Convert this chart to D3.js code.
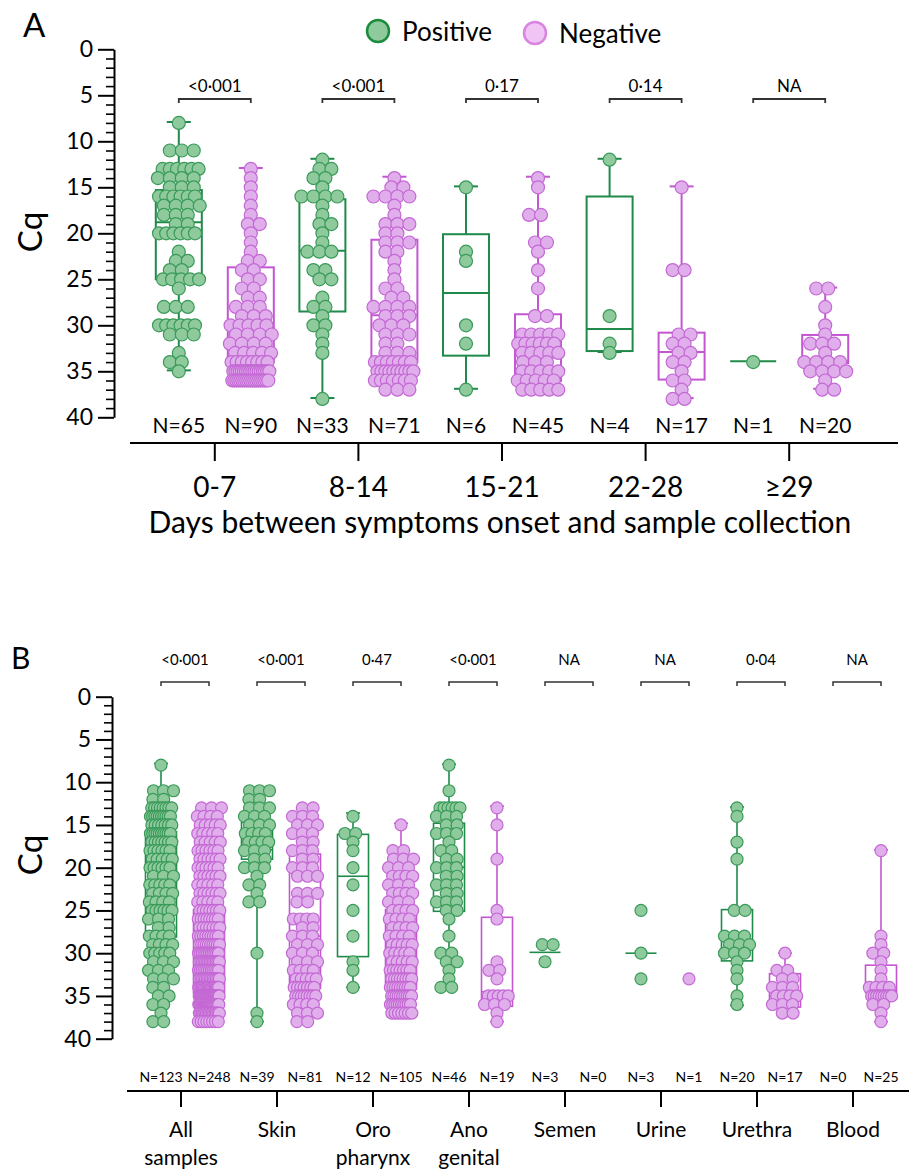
<!DOCTYPE html>
<html>
<head>
<meta charset="utf-8">
<script src="https://cdn.jsdelivr.net/npm/d3@7"></script>
<style>
  body { margin: 0; background: #fff; }
  svg { display: block; }
</style>
</head>
<body>
<div id="viz"></div>
<script>
// ---- Panel A: days between symptoms onset and sample collection ----
const daysCats = ["0-7", "8-14", "15-21", "22-28", "\u226529"];
const daysP = ["<0\u00b7001", "<0\u00b7001", "0\u00b717", "0\u00b714", "NA"];
const daysNPos = [65, 33, 6, 4, 1];
const daysNNeg = [90, 71, 45, 17, 20];

const daysPos = [
  [8,11,11,11,13,13,13,13,13,13,14,14,14,14,15,15,15,16,16,16,16,16,16,17,17,17,17,18,18,18,19,19,20,20,20,20,20,20,22,23,23,24,24,25,25,25,25,25,26,28,28,28,30,30,30,30,30,30,31,31,31,33,34,34,35],
  [12,13,13,14,14,15,16,16,16,16,17,18,19,19,20,21,22,22,22,24,24,25,25,27,28,28,29,30,30,31,32,33,38],
  [15,22,23,30,32,37],
  [12,29,32,33],
  [34]
];
const daysNeg = [
  [13,14,15,16,17,18,19,19,20,21,22,23,23,24,24,25,25,26,26,27,27,28,28,28,29,29,29,
   30,30,30,30,30,31,31,31,31,32,32,32,32,33,33,33,33,33,
   34,34,34,34,34,34,34,34,35,35,35,35,35,35,35,35,35,35,35,35,35,35,35,35,35,35,
   36,36,36,36,36,36,36,36,36,36,36,36,36,36,36,36,36,36,36],
  [14,15,15,16,16,16,16,17,18,19,19,19,20,20,21,21,21,22,22,23,24,25,26,26,27,27,
   28,28,28,28,29,29,29,30,30,30,31,31,31,32,32,33,33,33,34,34,34,34,34,34,34,
   35,35,35,35,35,35,35,35,35,35,36,36,36,36,36,36,36,37,37,37],
  [14,15,18,18,21,21,22,24,26,29,29,31,31,31,31,31,32,32,32,32,32,32,33,33,33,33,33,34,34,34,35,35,35,35,35,36,36,36,36,36,37,37,37,37,37],
  [15,24,24,31,31,32,32,33,33,34,34,35,36,36,37,38,38],
  [26,26,28,30,31,32,32,32,33,34,34,34,34,35,35,35,35,36,37,37]
];
// box stats: [min, q1, median, q3, max]; one value = median line only
const daysPosBox = [[7.9,15.3,18.8,25,34.9],[11.9,16.3,21.9,28.5,37.9],[14.9,20.1,26.5,33.3,36.9],[11.9,16,30.4,32.8,32.9],[33.9]];
const daysNegBox = [[12.9,23.7,29.9,34,35.9],[13.85,20.7,28.9,34,37],[13.85,28.8,32.9,36.05,37],[14.9,30.8,32.9,35.9,37.9],[25.9,31.05,33.9,34.1,36.9]];

// ---- Panel B: sample type ----
const sampleCats = [["All","samples"],["Skin"],["Oro","pharynx"],["Ano","genital"],["Semen"],["Urine"],["Urethra"],["Blood"]];
const sampleP = ["<0\u00b7001", "<0\u00b7001", "0\u00b747", "<0\u00b7001", "NA", "NA", "0\u00b704", "NA"];
const sampleNPos = [123, 39, 12, 46, 3, 3, 20, 0];
const sampleNNeg = [248, 81, 105, 19, 0, 1, 17, 25];

const samplePos = [
  [8,11,11,11,12,12,13,13,13,13,13,13,13,13,14,14,14,14,14,14,14,14,14,14,15,15,15,15,15,15,15,
   16,16,16,16,16,16,16,16,16,16,17,17,17,17,17,17,17,18,18,18,18,18,18,19,19,19,19,19,20,20,20,
   20,20,20,21,21,21,22,22,22,22,22,23,23,23,23,24,24,24,24,25,25,25,25,25,25,26,26,26,27,27,
   28,28,28,28,29,29,29,29,30,30,30,30,30,31,31,31,32,32,32,33,33,33,34,34,35,35,36,36,37,38,38],
  [11,11,11,12,12,13,13,13,14,14,14,15,15,15,16,16,16,16,17,17,17,17,18,18,18,19,19,20,20,20,21,22,22,23,24,24,30,37,38],
  [14,16,16,17,18,20,22,25,28,31,32,34],
  [8,11,13,13,13,13,13,13,14,14,14,15,15,16,16,16,17,18,18,19,19,20,20,20,21,21,22,22,22,23,23,24,24,24,25,25,26,28,30,30,31,31,32,33,34,34],
  [29,29,31],
  [25,30,33],
  [13,14,17,19,25,25,28,28,28,29,29,29,30,30,30,31,32,33,35,36],
  []
];
const sampleNeg = [
  [13,13,13,14,14,14,14,15,15,15,15,15,16,16,16,16,16,17,17,17,17,17,18,18,18,18,18,18,19,19,19,19,19,19,
   20,20,20,20,20,20,21,21,21,21,21,21,22,22,22,22,22,23,23,23,23,23,23,24,24,24,24,24,
   25,25,25,25,25,25,25,26,26,26,26,26,26,26,26,27,27,27,27,27,27,27,28,28,28,28,28,28,28,28,28,
   29,29,29,29,29,29,29,29,29,29,30,30,30,30,30,30,30,30,30,30,30,30,31,31,31,31,31,31,31,31,31,
   31,31,31,31,31,32,32,32,32,32,32,32,32,32,32,32,32,33,33,33,33,33,33,33,33,33,33,33,33,33,33,
   34,34,34,34,34,34,34,34,34,34,34,34,34,34,34,34,34,34,35,35,35,35,35,35,35,35,35,35,35,35,35,
   35,35,35,35,35,35,35,35,35,35,35,35,35,35,35,35,35,36,36,36,36,36,36,36,36,36,36,36,36,36,36,
   36,36,36,36,36,36,36,36,37,37,37,37,37,37,37,37,37,37,37,37,37,37,37,38,38,38,38,38,38,38,38],
  [13,13,14,14,14,15,15,15,16,16,16,17,17,18,18,18,19,19,20,20,20,21,21,21,23,23,23,24,24,26,26,26,26,27,27,
   28,28,28,29,29,29,30,30,30,31,31,31,32,32,32,32,33,33,33,33,33,34,34,34,34,34,34,34,35,35,35,35,35,35,35,35,
   36,36,36,36,37,37,37,38,38],
  [15,18,18,19,19,19,20,20,20,21,21,21,21,22,22,22,23,23,23,23,24,24,24,25,25,25,25,
   26,26,26,26,27,27,27,27,28,28,28,28,29,29,29,29,29,30,30,30,30,30,31,31,31,31,31,
   32,32,32,32,32,32,32,33,33,33,33,33,33,33,33,34,34,34,34,34,34,34,34,34,
   35,35,35,35,35,35,35,35,35,35,36,36,36,36,36,36,36,36,36,36,37,37,37,37,37,37,37],
  [13,15,19,25,26,31,32,32,33,35,35,35,35,35,36,36,36,37,38],
  [],
  [33],
  [30,32,32,33,33,34,34,34,35,35,35,35,36,36,36,37,37],
  [18,28,29,30,30,31,32,33,34,34,34,34,35,35,35,35,35,35,35,35,35,36,36,37,38]
];
const samplePosBox = [[7.8,15.8,20,28.1,38],[10.9,14.7,17.9,19,38],[13.6,16.1,21,30.4,34],[7.9,14.8,19.95,25.1,34.1],[29.9],[30],[12.9,24.9,28.6,30.9,36.1],null];
const sampleNegBox = [[12.8,24.9,31,34.7,38],[12.8,18.4,28,34.1,38],[14.8,24.9,31.1,34.2,37],[12.8,25.8,34.5,36.2,38],null,null,[30,32.4,35,36.3,37.1],[17.9,31.4,34.3,34.6,38]];

const yTicks = [0, 5, 10, 15, 20, 25, 30, 35, 40];

// colours
const posLine = "#1f8a4a", posFill = "#8fca9c", posDotStroke = "#3a9a5a";
const negLine = "#c456d2", negFill = "#dfaeeb", negDotStroke = "#c468d4";
const font = "Lato, 'Open Sans', sans-serif";

const svg = d3.select("#viz").append("svg")
  .attr("width", 909).attr("height", 1169)
  .style("font-family", font);

// rows of equal values spread side by side, squeezed when the row is wider than the column;
// neighbouring rows are staggered a little, like bricks
function swarm(values, y, r, gap, maxHalf) {
  const out = [];
  d3.groups(values, v => Math.round(v)).forEach(([key, vs]) => {
    const n = vs.length;
    const s = n > 1 ? Math.min(2 * r * gap, 2 * maxHalf / (n - 1)) : 0;
    const shift = n > 1 ? (key % 2 ? 1 : -1) * s / 4 : 0;
    vs.forEach((v, j) => out.push({ v: v, x: (j - (n - 1) / 2) * s + shift, y: y(v) }));
  });
  return out.sort((a, b) => a.y - b.y);
}

function drawPanel(p) {
  const g = svg.append("g");
  const y = d3.scaleLinear().domain([0, 40]).range(p.yRange);
  const x = d3.scaleBand().domain(d3.range(p.cats.length)).range(p.xRange);
  const colX = (i, s) => x(i) + x.bandwidth() / 2 + p.offsets[s];

  // panel letter
  g.append("text").attr("x", p.letterX).attr("y", p.letterY)
    .attr("font-size", p.letterSize).text(p.letter);

  // y axis: minor ticks every 1, major every 5
  const minor = g.append("g").attr("transform", `translate(${p.axisX},0)`)
    .call(d3.axisLeft(y).tickValues(d3.range(0, 41).filter(d => d % 5)).tickSize(8).tickSizeOuter(0).tickFormat(""));
  minor.select(".domain").remove();
  minor.selectAll("line").attr("stroke", "#000").attr("stroke-width", 1.6);
  const major = g.append("g").attr("transform", `translate(${p.axisX},0)`)
    .call(d3.axisLeft(y).tickValues(yTicks).tickSize(16).tickSizeOuter(0).tickPadding(5));
  major.select(".domain").attr("stroke", "#000").attr("stroke-width", 2);
  major.selectAll("line").attr("stroke", "#000").attr("stroke-width", 2);
  major.selectAll("text").attr("font-size", p.tickSize).attr("font-family", font).attr("fill", "#000");

  g.append("text")
    .attr("transform", `translate(${p.cqX},${p.cqY}) rotate(-90)`)
    .attr("text-anchor", "middle").attr("font-size", p.cqSize).text("Cq");

  // x axis
  g.append("line").attr("x1", p.xLine[0]).attr("x2", p.xLine[1])
    .attr("y1", p.xAxisY).attr("y2", p.xAxisY).attr("stroke", "#000").attr("stroke-width", 2);
  const xa = g.append("g").attr("transform", `translate(0,${p.xAxisY})`)
    .call(d3.axisBottom(x).tickSize(p.xTick).tickSizeOuter(0).tickFormat(""));
  xa.select(".domain").remove();
  xa.selectAll("line").attr("stroke", "#000").attr("stroke-width", 2);

  p.cats.forEach((c, i) => {
    const lines = Array.isArray(c) ? c : [c];
    const t = g.append("text").attr("text-anchor", "middle").attr("font-size", p.catSize);
    lines.forEach((l, j) => {
      t.append("tspan").attr("x", x(i) + x.bandwidth() / 2)
        .attr("y", p.catY + j * p.catLead).text(l);
    });

    // significance bracket
    const x0 = colX(i, 0), x1 = colX(i, 1);
    g.append("path")
      .attr("d", `M${x0},${p.brY + 4}V${p.brY}H${x1}V${p.brY + 4}`)
      .attr("fill", "none").attr("stroke", "#333").attr("stroke-width", p.brW);
    g.append("text").attr("x", (x0 + x1) / 2).attr("y", p.brTextY)
      .attr("text-anchor", "middle").attr("font-size", p.pSize).text(p.pvals[i]);

    // N labels
    [p.nPos[i], p.nNeg[i]].forEach((n, s) => {
      g.append("text").attr("x", colX(i, s)).attr("y", p.nY)
        .attr("text-anchor", "middle").attr("font-size", p.nSize).text("N=" + n);
    });

    // boxes then dots
    [[p.posBox[i], p.pos[i], posLine, posFill, posDotStroke],
     [p.negBox[i], p.neg[i], negLine, negFill, negDotStroke]].forEach(([b, vals, lc, fc, dc], s) => {
      const cx = colX(i, s), hw = p.boxW / 2;
      const bg = g.append("g").attr("stroke", lc).attr("stroke-width", p.boxStroke).attr("fill", "none");
      if (b && b.length === 1) {
        bg.append("line").attr("x1", cx - hw).attr("x2", cx + hw).attr("y1", y(b[0])).attr("y2", y(b[0]));
      } else if (b) {
        const [mn, q1, md, q3, mx] = b;
        bg.append("line").attr("x1", cx).attr("x2", cx).attr("y1", y(mn)).attr("y2", y(q1));
        bg.append("line").attr("x1", cx).attr("x2", cx).attr("y1", y(q3)).attr("y2", y(mx));
        [mn, mx].forEach(v => bg.append("line").attr("x1", cx - p.capW / 2).attr("x2", cx + p.capW / 2)
          .attr("y1", y(v)).attr("y2", y(v)));
        bg.append("rect").attr("x", cx - hw).attr("width", p.boxW)
          .attr("y", y(q1)).attr("height", y(q3) - y(q1));
        bg.append("line").attr("x1", cx - hw).attr("x2", cx + hw).attr("y1", y(md)).attr("y2", y(md));
      }
      g.append("g").selectAll("circle")
        .data(swarm(vals, y, p.r, p.gap, p.maxHalf))
        .join("circle")
        .attr("cx", d => cx + d.x).attr("cy", d => d.y).attr("r", p.r)
        .attr("fill", fc).attr("stroke", dc).attr("stroke-width", 1.2);
    });
  });
  return g;
}

const gA = drawPanel({
  letter: "A", letterX: 23, letterY: 37, letterSize: 33,
  cats: daysCats, pvals: daysP, nPos: daysNPos, nNeg: daysNNeg,
  pos: daysPos, neg: daysNeg, posBox: daysPosBox, negBox: daysNegBox,
  yRange: [49.3, 417.3], xRange: [143, 861], offsets: [-36, 36],
  axisX: 114, tickSize: 23, cqX: 42, cqY: 232, cqSize: 33,
  xLine: [130, 898], xAxisY: 443, xTick: 18,
  catY: 497, catLead: 0, catSize: 28,
  brY: 99, brTextY: 92, brW: 1.8, pSize: 17,
  nY: 433, nSize: 21,
  boxW: 46, capW: 24, boxStroke: 2, r: 6.5, gap: 0.92, maxHalf: 18
});

gA.append("text").attr("x", 500).attr("y", 533).attr("text-anchor", "middle")
  .attr("font-size", 30).text("Days between symptoms onset and sample collection");

// legend
const legend = [["Positive", posFill, "#1a8c3c", 378, 31], ["Negative", "#f0c4f4", "#d884e0", 535, 33]];
legend.forEach(([label, fill, stroke, lx, ly]) => {
  gA.append("circle").attr("cx", lx).attr("cy", ly).attr("r", 11)
    .attr("fill", fill).attr("stroke", stroke).attr("stroke-width", 2.5);
  gA.append("text").attr("x", lx + 24).attr("y", ly + 10).attr("font-size", 26).text(label);
});

drawPanel({
  letter: "B", letterX: 11, letterY: 669, letterSize: 30,
  cats: sampleCats, pvals: sampleP, nPos: sampleNPos, nNeg: sampleNNeg,
  pos: samplePos, neg: sampleNeg, posBox: samplePosBox, negBox: sampleNegBox,
  yRange: [696.7, 1038.7], xRange: [133, 901], offsets: [-20, 28],
  axisX: 112, tickSize: 23, cqX: 42, cqY: 855, cqSize: 33,
  xLine: [127, 909], xAxisY: 1091, xTick: 16,
  catY: 1137, catLead: 28, catSize: 21,
  brY: 682, brTextY: 665, brW: 1.5, pSize: 15,
  nY: 1082, nSize: 14,
  boxW: 31, capW: 14, boxStroke: 1.6, r: 6, gap: 0.9, maxHalf: 10
});
</script>
</body>
</html>
